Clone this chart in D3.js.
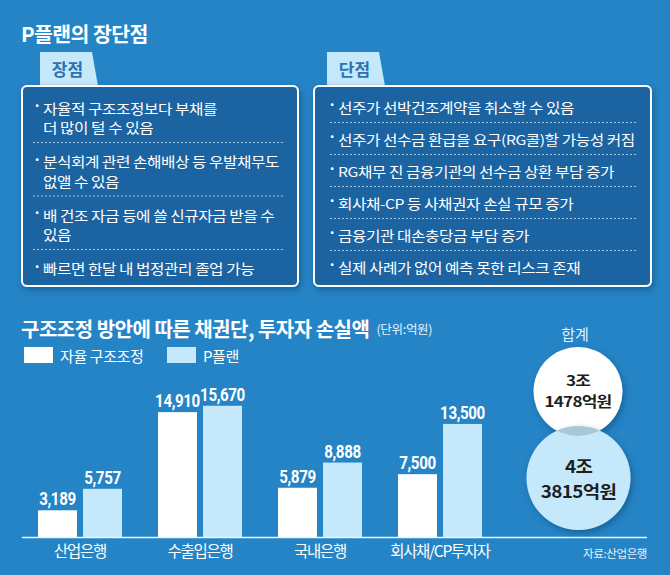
<!DOCTYPE html>
<html><head><meta charset="utf-8">
<script src="https://cdn.jsdelivr.net/npm/d3@7/dist/d3.min.js"></script>
<style>body{margin:0;background:#2584c6;}svg{display:block;}</style>
</head><body>
<script>
// ---------- data ----------
const mainTitle = "P플랜의 장단점";
const prosLabel = "장점";
const consLabel = "단점";
const pros = [
  ["자율적 구조조정보다 부채를", "더 많이 털 수 있음"],
  ["분식회계 관련 손해배상 등 우발채무도", "없앨 수 있음"],
  ["배 건조 자금 등에 쓸 신규자금 받을 수", "있음"],
  ["빠르면 한달 내 법정관리 졸업 가능"]
];
const cons = [
  ["선주가 선박건조계약을 취소할 수 있음"],
  ["선주가 선수금 환급을 요구(RG콜)할 가능성 커짐"],
  ["RG채무 진 금융기관의 선수금 상환 부담 증가"],
  ["회사채-CP 등 사채권자 손실 규모 증가"],
  ["금융기관 대손충당금 부담 증가"],
  ["실제 사례가 없어 예측 못한 리스크 존재"]
];
const chartTitle = "구조조정 방안에 따른 채권단, 투자자 손실액";
const unitLabel = "(단위:억원)";
const seriesNames = ["자율 구조조정", "P플랜"];
const categories = ["산업은행", "수출입은행", "국내은행", "회사채/CP투자자"];
const selfRestructuring = [3189, 14910, 5879, 7500];
const pPlan = [5757, 15670, 8888, 13500];
const totalLabel = "합계";
const totalsMajor = ["3조", "4조"];
const totalsMinor = ["1478억원", "3815억원"];
const sourceLabel = "자료:산업은행";

// ---------- drawing ----------
const W = 670, H = 575;
const BG = "#2584c6", BOX = "#1f63a1", LIGHT = "#c6e8fb", TABTEXT = "#2a74b3";
const KR = "'Noto Sans CJK KR', 'Noto Sans', sans-serif";
const svg = d3.select("body").append("svg").attr("width", W).attr("height", H)
  .style("font-family", KR);
svg.append("rect").attr("width", W).attr("height", H).attr("fill", BG);

const defs = svg.append("defs");
const sh = defs.append("filter").attr("id", "sh").attr("x", "-20%").attr("y", "-20%").attr("width", "150%").attr("height", "150%");
sh.append("feDropShadow").attr("dx", 2).attr("dy", 3).attr("stdDeviation", 3)
  .attr("flood-color", "#0a3a63").attr("flood-opacity", 0.45);

svg.append("text").attr("x", 21).attr("y", 33).attr("dominant-baseline", "central")
  .attr("fill", "#fff").attr("font-size", 20.5).attr("font-weight", 700)
  .attr("letter-spacing", -0.6).text(mainTitle);

function panel(x0, x1, tabX, tabW, label, items, opt) {
  const top = 86, bottom = 286;
  svg.append("path")
    .attr("d", `M${tabX},${top} L${tabX},52 L${tabX + tabW},52 L${tabX + tabW + 6},${top} Z`)
    .attr("fill", LIGHT);
  svg.append("text").attr("x", tabX + (tabW + 3) / 2).attr("y", 68)
    .attr("text-anchor", "middle").attr("dominant-baseline", "central")
    .attr("fill", TABTEXT).attr("font-size", 17).attr("font-weight", 700).text(label);
  svg.append("rect").attr("x", x0).attr("y", top).attr("width", x1 - x0).attr("height", bottom - top)
    .attr("rx", 5).attr("fill", BOX).attr("stroke", "#fff").attr("stroke-width", 2)
    .attr("filter", "url(#sh)");
  let y = opt.start;
  items.forEach((lines, i) => {
    svg.append("text").attr("x", x0 + opt.bulletDx).attr("y", y - 3)
      .attr("dominant-baseline", "central").attr("fill", "#fff")
      .attr("font-size", 14).attr("font-weight", 700).text("·");
    lines.forEach((ln, j) => {
      svg.append("text")
        .attr("transform", `translate(${x0 + opt.textDx},${y + j * opt.lh}) scale(1,0.85)`)
        .attr("dominant-baseline", "central").attr("fill", "#fff")
        .attr("font-size", 15.7).attr("letter-spacing", -0.45).text(ln);
    });
    const last = y + (lines.length - 1) * opt.lh;
    if (i < items.length - 1) {
      const dy = last + opt.after;
      svg.append("line").attr("x1", x0 + opt.dashX0).attr("x2", x1 - opt.dashX1)
        .attr("y1", dy).attr("y2", dy).attr("stroke", "#9cc6e6")
        .attr("stroke-width", 1).attr("stroke-dasharray", "2,2");
      y = dy + opt.before;
    }
  });
}
panel(22, 298, 40, 52, prosLabel, pros, {start: 108, lh: 19.5, after: 15, before: 19, bulletDx: 11, textDx: 21, dashX0: 11, dashX1: 13});
panel(314, 651, 327, 52, consLabel, cons, {start: 107, lh: 19.5, after: 15.5, before: 16.5, bulletDx: 14, textDx: 24, dashX0: 16, dashX1: 14});

// chart title
const t2 = svg.append("text").attr("x", 21).attr("y", 328).attr("dominant-baseline", "central")
  .attr("fill", "#fff");
t2.append("tspan").attr("font-size", 20).attr("font-weight", 700).attr("letter-spacing", -0.5).text(chartTitle);
t2.append("tspan").attr("dx", 7).attr("font-size", 12.5).attr("fill", "#e6f3fc").attr("letter-spacing", -0.3).text(unitLabel);

// legend
const seriesColors = ["#ffffff", LIGHT];
const legX = [24, 167];
seriesNames.forEach((s, i) => {
  svg.append("rect").attr("x", legX[i]).attr("y", 347).attr("width", 29).attr("height", 16).attr("fill", seriesColors[i]);
  svg.append("text").attr("x", legX[i] + 36).attr("y", 355).attr("dominant-baseline", "central")
    .attr("fill", "#fff").attr("font-size", 15).attr("letter-spacing", -0.4).text(s);
});

// bars
const x0 = d3.scaleBand().domain(categories).range([20, 500]).paddingInner(0.3).paddingOuter(0.15);
const x1 = d3.scaleBand().domain(seriesNames).range([0, x0.bandwidth()]).paddingInner(0.1333);
const y = d3.scaleLinear().domain([0, 16000]).range([537, 403]);
const rows = categories.map((c, i) => ({cat: c, vals: [selfRestructuring[i], pPlan[i]]}));
const g = svg.append("g");
const grp = g.selectAll("g.grp").data(rows).join("g").attr("class", "grp")
  .attr("transform", d => `translate(${x0(d.cat)},0)`);
grp.selectAll("rect").data(d => d.vals.map((v, k) => ({v, s: seriesNames[k], k})))
  .join("rect")
  .attr("x", d => x1(d.s)).attr("width", x1.bandwidth())
  .attr("y", d => y(d.v)).attr("height", d => y(0) - y(d.v))
  .attr("fill", d => seriesColors[d.k]);
const fmt = d3.format(",");
grp.selectAll("text.val").data(d => d.vals.map((v, k) => ({v, s: seriesNames[k]})))
  .join("text").attr("class", "val")
  .attr("transform", d => `translate(${x1(d.s) + x1.bandwidth() / 2},${y(d.v) - 5}) scale(0.82,1)`)
  .attr("text-anchor", "middle").attr("fill", "#fff")
  .attr("font-family", "Roboto, 'Liberation Sans', sans-serif")
  .attr("font-size", 18.5).attr("font-weight", 700).attr("letter-spacing", -0.5)
  .text(d => fmt(d.v));

// axis
const xAxis = d3.axisBottom(x0).tickSize(0).tickPadding(0);
const ax = svg.append("g").attr("transform", "translate(0,537)").call(xAxis);
ax.select(".domain").remove();
ax.selectAll("text").attr("fill", "#fff").attr("font-family", KR)
  .attr("font-size", 15.5).attr("letter-spacing", -1.3)
  .attr("dy", null).attr("y", 13).attr("dominant-baseline", "central");
svg.append("line").attr("x1", 22).attr("x2", 647).attr("y1", 537.5).attr("y2", 537.5)
  .attr("stroke", "#eaf5fd").attr("stroke-width", 1.5);

// totals
svg.append("text").attr("x", 575).attr("y", 333).attr("text-anchor", "middle")
  .attr("dominant-baseline", "central").attr("fill", "#e2f1fb").attr("font-size", 15).text(totalLabel);
const circ = [{cx: 578, cy: 391.5, r: 44.5, fill: "#ffffff", fs: 18.5, sx: 0.92, sy: 0.77, l1: -11, gap: 21},
              {cx: 578.5, cy: 478, r: 52, fill: LIGHT, fs: 22, sx: 0.86, sy: 0.8, l1: -13, gap: 25.5}];
circ.forEach(c => {
  svg.append("circle").attr("cx", c.cx).attr("cy", c.cy).attr("r", c.r)
    .attr("fill", c.fill).attr("filter", "url(#sh)");
});
defs.append("clipPath").attr("id", "lens").append("circle")
  .attr("cx", circ[0].cx).attr("cy", circ[0].cy).attr("r", circ[0].r);
svg.append("circle").attr("cx", circ[1].cx).attr("cy", circ[1].cy).attr("r", circ[1].r)
  .attr("fill", "#a8c8d7").attr("clip-path", "url(#lens)");
circ.forEach((c, i) => {
  [totalsMajor[i], totalsMinor[i]].forEach((t, j) => {
    svg.append("text")
      .attr("transform", `translate(${c.cx},${c.cy + c.l1 + j * c.gap}) scale(${c.sx},${c.sy})`)
      .attr("text-anchor", "middle").attr("dominant-baseline", "central")
      .attr("fill", "#1e1e1e").attr("font-size", c.fs).attr("font-weight", 700)
      .attr("letter-spacing", -0.8).text(t);
  });
});

svg.append("text").attr("x", 647).attr("y", 553).attr("text-anchor", "end")
  .attr("dominant-baseline", "central").attr("fill", "#e6f3fc")
  .attr("font-size", 11.5).attr("letter-spacing", -0.4).text(sourceLabel);
</script>
</body></html>
